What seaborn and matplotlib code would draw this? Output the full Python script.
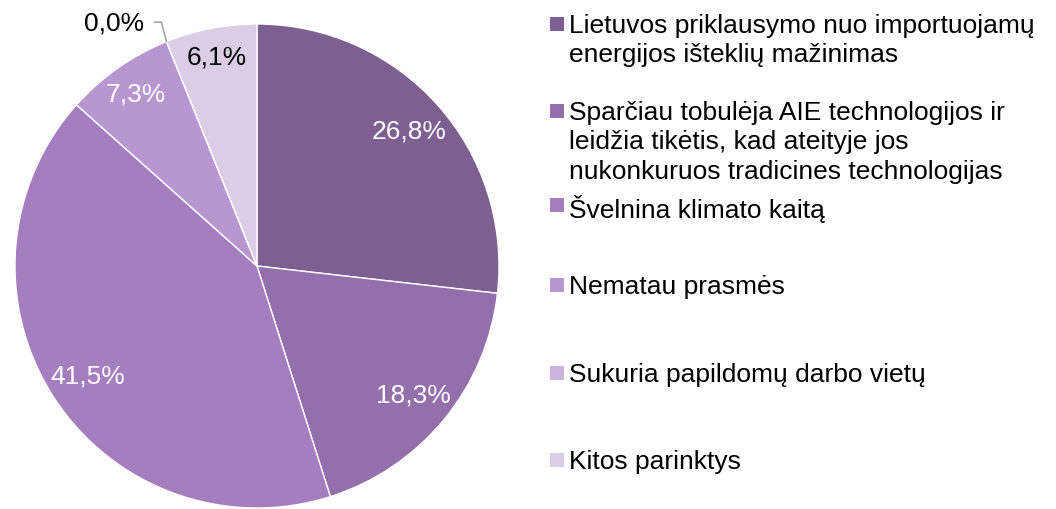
import numpy as np
import seaborn as sns
import matplotlib.pyplot as plt
from matplotlib.patches import Rectangle

# Duomenys
categories = [
    "Lietuvos priklausymo nuo importuojamų\nenergijos išteklių mažinimas",
    "Sparčiau tobulėja AIE technologijos ir\nleidžia tikėtis, kad ateityje jos\nnukonkuruos tradicines technologijas",
    "Švelnina klimato kaitą",
    "Nematau prasmės",
    "Sukuria papildomų darbo vietų",
    "Kitos parinktys",
]
shares = [26.8, 18.3, 41.5, 7.3, 0.0, 6.1]
colors = ["#7e5f91", "#9370ab", "#a47ebe", "#b897d0", "#cbb3dd", "#dccde6"]

sns.set_theme(style="white")
plt.rcParams['font.family'] = ['Liberation Sans', 'DejaVu Sans']

W, H = 1056, 510
fig = plt.figure(figsize=(W / 100, H / 100), dpi=100)
cx, cy, r = 257, 267, 242
ax = fig.add_axes([(cx - r) / W, (H - cy - r) / H, 2 * r / W, 2 * r / H])

wedges, _, autotexts = ax.pie(
    shares, colors=sns.color_palette(colors), startangle=90, counterclock=False,
    radius=1, autopct=lambda p: f"{p:.1f}%".replace(".", ","), pctdistance=0.83,
    wedgeprops=dict(edgecolor="white", linewidth=1),
    textprops=dict(fontsize=19),
)
ax.set_xlim(-1, 1)
ax.set_ylim(-1, 1)
ax.set_aspect("equal")

# label placement (Excel style)
dist = [0.84, 0.835, 0.835, 0.87, 0.0, 0.88]
txt_colors = ["white", "white", "white", "white", "black", "black"]
for w, t, d, c in zip(wedges, autotexts, dist, txt_colors):
    ang = np.deg2rad((w.theta1 + w.theta2) / 2)
    t.set_color(c)
    if d > 0:
        t.set_position((d * np.cos(ang), d * np.sin(ang)))

# zero slice: label outside with leader line
zw, zt = wedges[4], autotexts[4]
a = np.deg2rad(zw.theta1)
zt.set_visible(False)
ax.annotate(zt.get_text(), xy=(np.cos(a), np.sin(a)), xytext=(-16, 14),
            textcoords="offset points", ha="right", va="center", fontsize=19,
            color="black",
            arrowprops=dict(arrowstyle="-", color="#a6a6a6", lw=1.2,
                            shrinkA=5, shrinkB=0,
                            connectionstyle="angle,angleA=0,angleB=105,rad=0"))

# legend
leg_y = [25, 112, 206, 286, 374, 461]
for lab, col, y in zip(categories, colors, leg_y):
    fig.patches.append(Rectangle((550 / W, 1 - (y + 7) / H), 14 / W, 14 / H,
                                 transform=fig.transFigure, facecolor=col,
                                 edgecolor="none"))
    fig.text(569 / W, 1 - (y - 11) / H, lab, fontsize=19, va="top",
             ha="left", linespacing=1.28, color="black")

plt.savefig("out.png", dpi=100)
plt.close()
